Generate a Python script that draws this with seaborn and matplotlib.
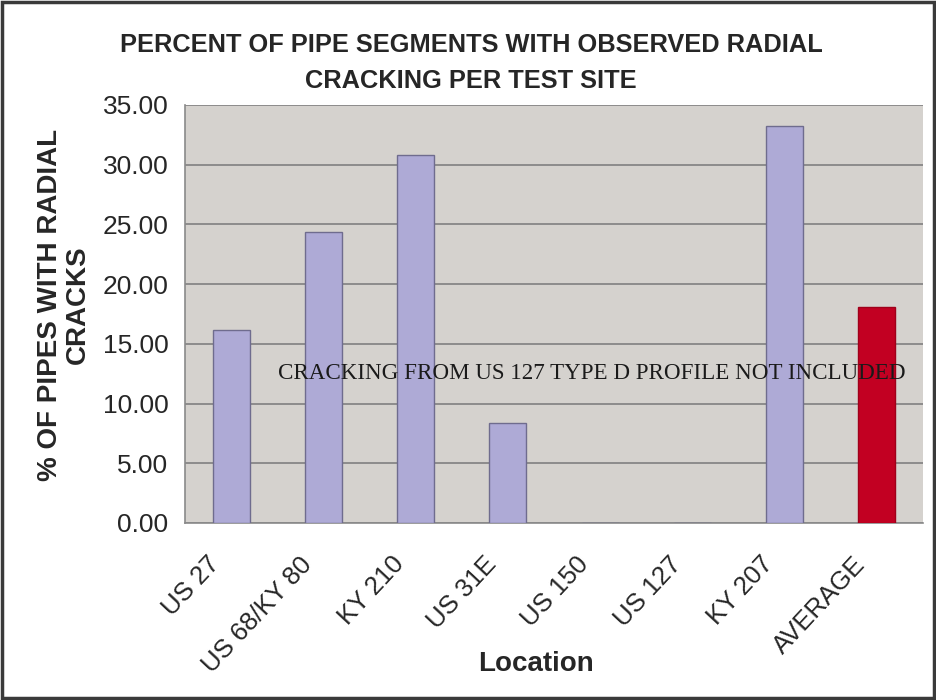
import matplotlib
matplotlib.use("Agg")
import matplotlib.pyplot as plt
from matplotlib import font_manager
from matplotlib.patches import Rectangle
import numpy as np
import seaborn as sns

locations = ["US 27", "US 68/KY 80", "KY 210", "US 31E", "US 150", "US 127", "KY 207", "AVERAGE"]
pct_cracked = [16.2, 24.4, 30.8, 8.35, 0.0, 0.0, 33.2, 18.1]
bar_colors = ["#aeaad6", "#aeaad6", "#aeaad6", "#aeaad6", "#aeaad6", "#aeaad6", "#aeaad6", "#c20022"]
y_ticks = [0, 5, 10, 15, 20, 25, 30, 35]
title_text = "PERCENT OF PIPE SEGMENTS WITH OBSERVED RADIAL\nCRACKING PER TEST SITE"
ylabel_text = "% OF PIPES WITH RADIAL\nCRACKS"
xlabel_text = "Location"
note_text = "CRACKING FROM US 127 TYPE D PROFILE NOT INCLUDED"

sns.set_style("white")
names = {f.name for f in font_manager.fontManager.ttflist}
narrow = "Liberation Sans Narrow" if "Liberation Sans Narrow" in names else "Liberation Sans"
plt.rcParams["font.family"] = ["Liberation Sans", "DejaVu Sans"]

fig = plt.figure(figsize=(9.37, 7.0), dpi=100)
ax = fig.add_axes([185/937, 1-523/700, (923-185)/937, (523-105)/700])
ax.set_facecolor("#d5d2ce")

sns.barplot(x=locations, y=pct_cracked, hue=locations, palette=bar_colors,
            width=0.4, edgecolor="#6f6c8e", linewidth=1.0, legend=False,
            saturation=1, ax=ax, zorder=3)
for p, c in zip(ax.patches, bar_colors):
    if c == "#c20022":
        p.set_edgecolor("#a0001a")

ax.set_xlim(-0.5, len(locations) - 0.5)
ax.set_ylim(0, 35)
ax.set_yticks(y_ticks)
ax.set_yticklabels([f"{v:.2f}" for v in y_ticks])
ax.yaxis.grid(True, color="#808080", linewidth=1.2, zorder=0)
ax.set_axisbelow(True)
for s in ["top", "right"]:
    ax.spines[s].set_visible(False)
for s in ["left", "bottom"]:
    ax.spines[s].set_color("#8a8a8a")
    ax.spines[s].set_linewidth(1.2)

ax.tick_params(axis="y", length=8, width=1.2, color="#8a8a8a", labelsize=19, pad=4, direction="out")
ax.set_xticks(range(len(locations)))
ax.set_xticklabels(locations, rotation=47, ha="right", rotation_mode="anchor", fontsize=18.5)
ax.tick_params(axis="x", which="major", length=0, pad=21)
ax.set_xticks(np.arange(-0.5, len(locations), 1), minor=True)
ax.tick_params(axis="x", which="minor", length=8, width=1.2, color="#8a8a8a", direction="out")
for lab in ax.get_xticklabels():
    lab.set_transform(lab.get_transform() + matplotlib.transforms.ScaledTranslation(-0.24, 0, fig.dpi_scale_trans))
ax.set_xlabel("")
ax.set_ylabel("")

ax.text(0.51, 12.5, note_text, family=["Liberation Serif", "DejaVu Serif"], fontsize=16.6,
        va="center", ha="left", color="#1a1a1a", zorder=5)

fig.text(471/937, 1-63/700, title_text, ha="center", va="center", fontsize=18.3,
         fontweight="bold", family=[narrow, "DejaVu Sans"], linespacing=1.6)
fig.text(64/937, 1-305/700, ylabel_text, ha="center", va="center", rotation=90,
         fontsize=20, fontweight="bold", family=[narrow, "DejaVu Sans"],
         multialignment="center", linespacing=1.1)
fig.text(536/937, 1-664/700, xlabel_text, ha="center", va="center", fontsize=20,
         fontweight="bold")

fig.patches.append(Rectangle((0.002, 0.003), 0.995, 0.994, transform=fig.transFigure,
                             fill=False, edgecolor="#3a3a3a", linewidth=2.5))

fig.savefig("out.png", dpi=100)
